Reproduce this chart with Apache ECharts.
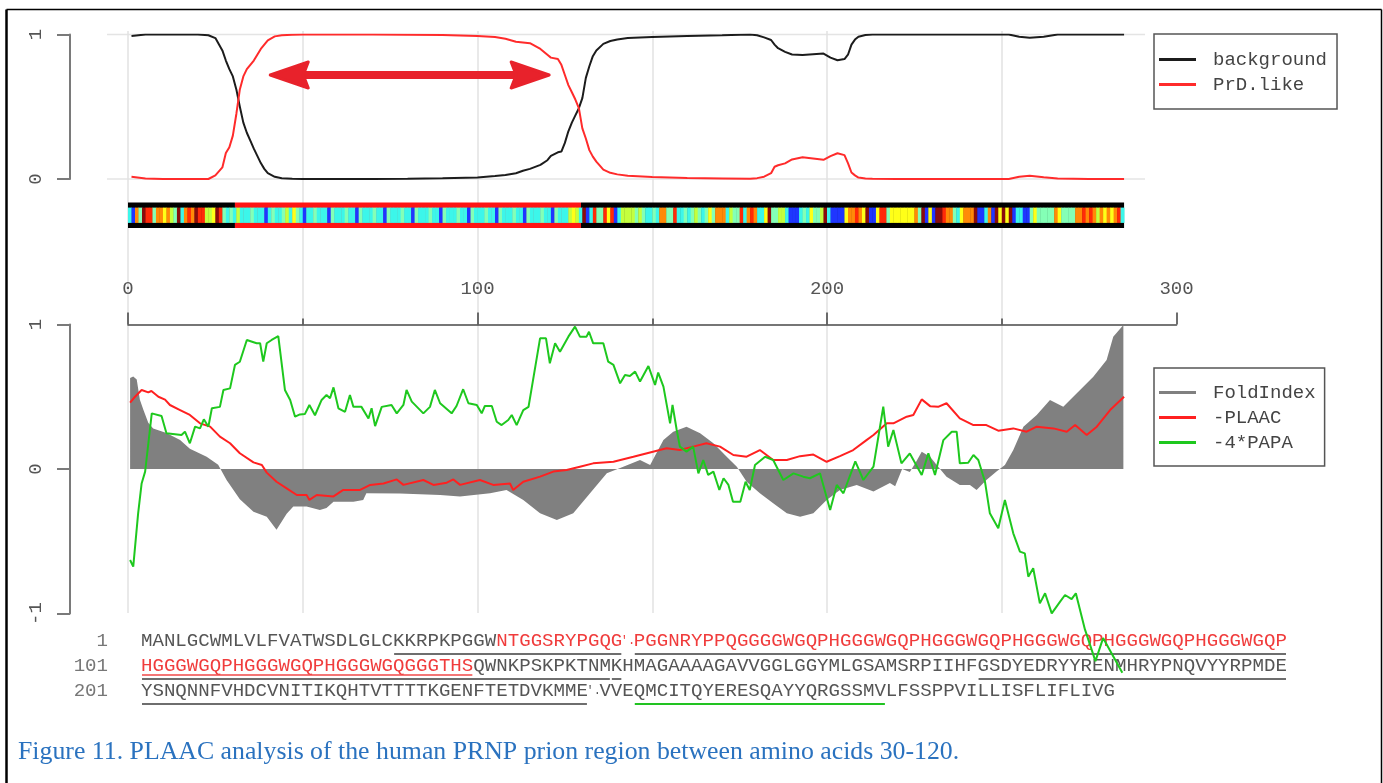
<!DOCTYPE html>
<html>
<head>
<meta charset="utf-8">
<title>PLAAC analysis of human PRNP</title>
<script src="https://cdn.jsdelivr.net/npm/echarts@6.0.0/dist/echarts.min.js"></script>
<style>
  html, body { margin: 0; padding: 0; background: #fff; }
  #chart { width: 1383px; height: 783px; }
</style>
</head>
<body>
<div id="chart"></div>
<script>
// ---------------- data ----------------
// top panel: HMM state probabilities (residue position -> value)
const topPos = [1, 5, 10, 15, 20, 23, 25, 27, 28, 29, 30, 31, 32, 33, 34, 35, 36, 37, 38, 39,
  40, 42, 44, 47, 50, 60, 70, 80, 90, 100, 105, 108, 111, 113, 115, 118, 120, 121, 123, 124,
  125, 126, 127, 128, 129, 130, 131, 132, 133, 134, 136, 138, 140, 143, 150, 160, 170, 178, 180, 182,
  184, 185, 186, 188, 190, 193, 196, 199, 201, 203, 205, 206, 207, 208, 209, 211, 213, 220, 240, 252,
  255, 258, 262, 266, 275, 285];
const bgVals = [0.99, 1, 1, 1, 1, 0.995, 0.975, 0.89, 0.82, 0.76, 0.71, 0.62, 0.5, 0.39, 0.32, 0.265, 0.21, 0.16, 0.11, 0.07,
  0.04, 0.015, 0.005, 0.002, 0, 0, 0, 0.002, 0.005, 0.01, 0.02, 0.028, 0.04, 0.057, 0.07, 0.098, 0.13, 0.16, 0.185, 0.19,
  0.25, 0.33, 0.39, 0.44, 0.49, 0.56, 0.7, 0.78, 0.85, 0.89, 0.935, 0.955, 0.965, 0.975, 0.983, 0.99, 0.995, 1, 0.995, 0.98,
  0.962, 0.93, 0.905, 0.88, 0.862, 0.858, 0.863, 0.868, 0.84, 0.822, 0.83, 0.86, 0.93, 0.965, 0.985, 0.997, 1, 1, 1, 1,
  0.985, 0.978, 0.985, 1, 1, 1];
const prdVals = [0.015, 0.004, 0, 0, 0, 0, 0.025, 0.08, 0.18, 0.22, 0.3, 0.45, 0.62, 0.71, 0.76, 0.79, 0.82, 0.86, 0.9, 0.93,
  0.96, 0.987, 0.995, 0.999, 1, 1, 1, 0.999, 0.997, 0.99, 0.982, 0.97, 0.95, 0.945, 0.94, 0.9, 0.86, 0.84, 0.83, 0.79,
  0.72, 0.65, 0.6, 0.55, 0.49, 0.35, 0.28, 0.2, 0.155, 0.12, 0.065, 0.043, 0.032, 0.022, 0.013, 0.007, 0.004, 0.002, 0.006, 0.016,
  0.04, 0.085, 0.095, 0.108, 0.135, 0.15, 0.142, 0.133, 0.158, 0.178, 0.165, 0.11, 0.045, 0.025, 0.01, 0.004, 0.002, 0, 0, 0,
  0.016, 0.023, 0.012, 0.004, 0, 0];

// MAP / Vit strip: one colour code per residue (0..284)
const mapCodes = [
  'cboadrraooyogadcorodrrggydracac',
  'gcccacccbcaccagcyacbccaccc',
  'bacccaccbacccaccbacccaccbacccaccbacccaccbacccaccbacccaccbacccacc',
  'bacccgygc',
  'dbcraaryrbcggggagaccacooaarccacagacayaoo',
  'ocgaarcoroccydaaggcbbbcacyaagdcbbbbyooro',
  'ydbbyrrayyyyyyyoadbybddrooacyooodbbcobdy',
  'dydbccbbayaaaaaoyaaaaoororogoyoyorc'
].join('');
const codeKeys = 'bcagyord';
const codeColors = ['#1f36ff', '#3cf6ea', '#84ffb6', '#c4ff3e', '#ffff18', '#ff8a08', '#ff2a08', '#8a0c0c'];
// parse along the sequence: [from, to, state] (0 = background, 1 = PrD-like)
const parseSegs = [[0, 30.6, 0], [30.6, 129.6, 1], [129.6, 285, 0]];
const parseColors = ['#000000', '#ff1414'];

// bottom panel
const foldPos = [0.6, 1.5, 2.5, 3.4, 4.4, 5.8, 7.2, 11, 14.9, 17.7, 22.5, 25.8, 28.2, 32, 35.9, 39.7, 42.5, 45.4, 47.3, 51.1,
  54.9, 56.8, 58.8, 64.5, 67.3, 68.2, 77.8, 89.3, 95, 103.6, 108.3, 113.1, 117.9, 122.7, 127.4, 132.2, 137, 141.7, 146.5, 149.4,
  153.2, 156, 159.8, 163.7, 167.5, 171.3, 174.2, 177, 180.8, 184.6, 188.5, 192.3, 196.1, 199.9, 203.7, 208.5, 213.3, 218, 219.5, 221.5,
  223.7, 225.5, 227.1, 229.5, 231.8, 234.2, 238, 240.9, 242.8, 245.6, 248.5, 250.9, 253.3, 256.2, 260, 263.8, 267.6, 272.4, 276.2, 280,
  281.9, 284.8];
const foldVals = [0.63, 0.64, 0.62, 0.48, 0.41, 0.32, 0.28, 0.25, 0.2, 0.14, 0.085, 0.03, -0.076, -0.21, -0.295, -0.33, -0.42, -0.31, -0.26, -0.26,
  -0.284, -0.27, -0.226, -0.226, -0.214, -0.168, -0.17, -0.18, -0.19, -0.168, -0.145, -0.214, -0.307, -0.353, -0.307, -0.168, -0.03, 0.016, 0.062, 0.028,
  0.2, 0.258, 0.293, 0.247, 0.178, 0.085, 0.016, -0.088, -0.168, -0.237, -0.307, -0.33, -0.307, -0.214, -0.145, -0.11, -0.155, -0.097, -0.12, 0,
  -0.02, 0.05, 0.12, 0.085, 0.016, -0.053, -0.11, -0.11, -0.145, -0.076, -0.018, 0.028, 0.131, 0.293, 0.374, 0.478, 0.43, 0.547, 0.639, 0.754,
  0.916, 0.997];

const plaacPos = [0.6, 2, 3.9, 5.8, 6.7, 8.7, 10.6, 12, 14.9, 17.7, 20.6, 23.5, 26.3, 29.2, 32, 35.9, 38.3, 39.7, 42.5, 45.4,
  48.3, 51.1, 51.9, 54, 58.8, 61.6, 66.4, 69.3, 73.1, 76.9, 78.8, 84.5, 87.4, 91.2, 93.1, 95, 100.7, 104.5, 109.3, 110.2,
  113.1, 117.9, 121.7, 125.5, 129.3, 133.1, 138.9, 144.6, 150.2, 154.1, 157.9, 161.7, 165.5, 169.4, 173.2, 177, 180.8, 184.6, 188.5, 192.3,
  196.1, 199.9, 203.7, 207.5, 211.3, 213.3, 217.1, 219, 222.8, 224.7, 227.1, 229.5, 231.8, 234.2, 238, 241.9, 245.6, 249, 253.3, 257.1,
  260, 264.8, 268.6, 271, 274.3, 277.2, 281, 285];
const plaacVals = [0.46, 0.5, 0.547, 0.53, 0.54, 0.5, 0.48, 0.443, 0.408, 0.374, 0.316, 0.293, 0.224, 0.178, 0.109, 0.046, 0.028, -0.025, -0.088, -0.134,
  -0.18, -0.18, -0.214, -0.18, -0.19, -0.145, -0.145, -0.11, -0.1, -0.072, -0.11, -0.076, -0.11, -0.095, -0.072, -0.11, -0.076, -0.11, -0.1, -0.145,
  -0.088, -0.053, -0.018, -0.007, 0.016, 0.039, 0.05, 0.085, 0.12, 0.143, 0.131, 0.155, 0.178, 0.155, 0.097, 0.085, 0.131, 0.062, 0.062, 0.089,
  0.1, 0.05, 0.089, 0.131, 0.2, 0.235, 0.316, 0.316, 0.362, 0.374, 0.482, 0.435, 0.43, 0.455, 0.35, 0.304, 0.304, 0.265, 0.281, 0.258,
  0.293, 0.281, 0.258, 0.304, 0.235, 0.293, 0.408, 0.5];

const papaPos = [0.6, 1.5, 2.9, 3.9, 4.9, 6.8, 9.6, 11, 15.3, 16.3, 17.7, 19.2, 20.6, 21.7, 23, 24, 26.3, 27.3, 29.2, 30.6,
  32, 34, 36.8, 37.8, 38.7, 39.7, 41.1, 43, 44.9, 46.4, 47.8, 49.2, 50.6, 51.9, 53.5, 55.4, 56.8, 57.8, 58.8, 60.2,
  62.1, 63.5, 64.5, 66.8, 68.8, 69.7, 70.7, 72.6, 75.4, 76.9, 78.8, 79.7, 81.2, 84.5, 86.4, 87.8, 89.3, 92.6, 94, 95.9,
  97.4, 99.8, 101.2, 102.1, 104.1, 105.5, 106.9, 108.8, 109.8, 111.2, 113.1, 114.6, 117.9, 119.6, 120.7, 122.2, 123.6, 126, 127.9, 129.3,
  131.2, 131.9, 133.1, 136, 137.4, 138.9, 140.8, 142.2, 143.6, 145.1, 146.5, 148.9, 150.8, 151.7, 153.2, 155.1, 155.8, 157, 157.9, 159.8,
  161.7, 163.2, 164.6, 166, 167.5, 169.2, 170.4, 171.8, 173.1, 175.2, 176.7, 177.9, 179.4, 182.3, 184.6, 187.5, 190.4, 193.2, 195.1, 198,
  200.9, 202.8, 204.7, 208.1, 210.4, 213.3, 216.1, 217.5, 219, 221.3, 223.7, 227.1, 229, 230.9, 233.3, 235.7, 237.1, 238, 240.4, 241.9,
  243.3, 245.2, 246.6, 249, 250.9, 253.3, 255.2, 256.6, 257.6, 259, 260.9, 262.4, 264.3, 266.7, 268.1, 270, 271.2, 273.8, 276.8, 279,
  284.5];
const papaVals = [-0.63, -0.676, -0.307, -0.1, -0.018, 0.385, 0.367, 0.247, 0.235, 0.258, 0.178, 0.293, 0.281, 0.344, 0.293, 0.42, 0.43, 0.547, 0.558, 0.72,
  0.742, 0.893, 0.87, 0.87, 0.743, 0.87, 0.893, 0.92, 0.547, 0.478, 0.362, 0.378, 0.38, 0.443, 0.372, 0.478, 0.512, 0.49, 0.565, 0.42,
  0.396, 0.512, 0.43, 0.43, 0.35, 0.42, 0.297, 0.43, 0.443, 0.385, 0.443, 0.547, 0.466, 0.385, 0.43, 0.547, 0.455, 0.385, 0.436, 0.552,
  0.455, 0.443, 0.385, 0.436, 0.436, 0.327, 0.304, 0.339, 0.374, 0.304, 0.408, 0.43, 0.904, 0.904, 0.731, 0.87, 0.812, 0.916, 0.985, 0.916,
  0.916, 0.95, 0.87, 0.87, 0.743, 0.72, 0.593, 0.651, 0.644, 0.674, 0.605, 0.713, 0.582, 0.667, 0.57, 0.316, 0.443, 0.27, 0.155, 0.12,
  0.155, -0.03, 0.062, -0.041, -0.018, -0.145, -0.064, -0.11, -0.226, -0.226, -0.088, -0.145, 0.028, 0.085, 0.062, -0.076, -0.03, -0.053, -0.064, -0.03,
  -0.284, -0.11, -0.168, 0.053, -0.076, 0.016, 0.431, 0.155, 0.27, 0.039, 0.108, -0.041, 0.108, -0.041, 0.2, 0.258, 0.258, 0.039, 0.043, 0.097,
  0.062, -0.088, -0.307, -0.41, -0.214, -0.445, -0.572, -0.584, -0.745, -0.687, -0.93, -0.86, -0.999, -0.918, -0.872, -0.9, -0.86, -1.11, -1.33, -1.17,
  -1.41];
const papaThreshold = -0.2;

// light reference lines of the top panel: [fromX, toX, level]
const topRefLines = [[-6, 291, 1], [-6, 291, 0]];

// hand-drawn arrow over the PrD-like stretch (residues, level)
const arrowSpan = [40.7, 120.5];
const arrowLevel = 0.72;

// sequence listing under the plot; '§' marks the blotted cell
const seqRows = [
  { label: '1', text: 'MANLGCWMLVLFVATWSDLGLCKKRPKPGGWNTGGSRYPGQG§PGGNRYPPQGGGGWGQPHGGGWGQPHGGGWGQPHGGGWGQPHGGGWGQPHGGGWGQP' },
  { label: '101', text: 'HGGGWGQPHGGGWGQPHGGGWGQGGGTHSQWNKPSKPKTNMKHMAGAAAAGAVVGGLGGYMLGSAMSRPIIHFGSDYEDRYYRENMHRYPNQVYYRPMDE' },
  { label: '201', text: 'YSNQNNFVHDCVNITIKQHTVTTTTKGENFTETDVKMME§VVEQMCITQYERESQAYYQRGSSMVLFSSPPVILLISFLIFLIVG' }
];
// [row, from, to) in residue cells
const redRuns = [[0, 31, 100], [1, 0, 29]];
const grayUnder = [[0, 22, 42], [0, 43, 100], [1, 0, 41], [1, 41, 42], [1, 73, 100], [2, 0, 39]];
const redUnder = [[1, 0, 29]];
const greenUnder = [[2, 43, 65]];

const caption = 'Figure 11. PLAAC analysis of the human PRNP prion region between amino acids 30-120.';

// ---------------- chart ----------------
const MONO = '"Liberation Mono", "DejaVu Sans Mono", monospace';
const plotLeft = 128;
const plotWidth = 1048.5;

const chart = echarts.init(document.getElementById('chart'));

const bracketAxis = {
  offset: 58,
  axisLine: { show: true, onZero: false, lineStyle: { color: '#7a7a7a', width: 2 } },
  axisTick: { show: true, length: 13, lineStyle: { color: '#7a7a7a', width: 2 } },
  axisLabel: { rotate: 90, margin: 25, color: '#555', fontSize: 19, fontFamily: MONO },
  splitLine: { show: false }
};

const option = {
  animation: false,
  backgroundColor: '#ffffff',
  grid: [
    { left: plotLeft, width: plotWidth, top: 34.5, height: 144.5 },
    { left: plotLeft, width: plotWidth, top: 202.5, height: 25.5 },
    { left: plotLeft, width: plotWidth, top: 324.5, height: 289 },
    { left: plotLeft, width: plotWidth, top: 31, height: 582 }
  ],
  xAxis: [
    { gridIndex: 0, type: 'value', min: 0, max: 300, show: false },
    { gridIndex: 1, type: 'value', min: 0, max: 300, show: false },
    {
      gridIndex: 2, type: 'value', min: 0, max: 300, interval: 100, position: 'top',
      axisLine: { show: true, onZero: false, lineStyle: { color: '#4a4a4a', width: 1.6 } },
      axisTick: { show: true, length: 12, lineStyle: { color: '#4a4a4a', width: 1.6 } },
      minorTick: { show: true, splitNumber: 2, length: 6, lineStyle: { color: '#4a4a4a', width: 1.6 } },
      axisLabel: { margin: 26, color: '#555', fontSize: 19, fontFamily: MONO },
      splitLine: { show: false }
    },
    {
      // vertical grid running through all three panels
      gridIndex: 3, type: 'value', min: 0, max: 300, interval: 50,
      axisLine: { show: false }, axisTick: { show: false }, axisLabel: { show: false },
      splitLine: {
        show: true, showMaxLine: false,
        lineStyle: { width: 1.5, color: ['#e2e2e2', '#e2e2e2', '#e2e2e2', '#e2e2e2', '#e2e2e2', '#e2e2e2', 'rgba(0,0,0,0)'] }
      }
    }
  ],
  yAxis: [
    Object.assign({ gridIndex: 0, type: 'value', min: 0, max: 1, interval: 1 }, bracketAxis),
    { gridIndex: 1, type: 'value', min: 0, max: 1, show: false },
    Object.assign({ gridIndex: 2, type: 'value', min: -1, max: 1, interval: 1 }, bracketAxis),
    { gridIndex: 3, type: 'value', min: 0, max: 1, show: false }
  ],
  legend: [
    {
      data: ['background', 'PrD.like'],
      orient: 'vertical', left: 1154, top: 34,
      icon: 'rect', itemWidth: 37, itemHeight: 3, itemGap: 6,
      padding: [16, 10, 15, 5],
      borderColor: '#555', borderWidth: 1.5,
      selectedMode: false,
      textStyle: { fontFamily: MONO, fontSize: 19, color: '#444', padding: [0, 0, 0, 12] }
    },
    {
      data: ['FoldIndex', '-PLAAC', '-4*PAPA'],
      orient: 'vertical', left: 1154, top: 368,
      icon: 'rect', itemWidth: 37, itemHeight: 3, itemGap: 6,
      padding: [15, 9, 14, 5],
      borderColor: '#555', borderWidth: 1.5,
      selectedMode: false,
      textStyle: { fontFamily: MONO, fontSize: 19, color: '#444', padding: [0, 0, 0, 12] }
    }
  ],
  series: [
    {
      name: 'background', type: 'line', xAxisIndex: 0, yAxisIndex: 0, z: 3,
      data: topPos.map((x, i) => [x, bgVals[i]]),
      symbol: 'none', silent: true,
      lineStyle: { color: '#1c1c1c', width: 2 }, itemStyle: { color: '#1c1c1c' }
    },
    {
      name: 'PrD.like', type: 'line', xAxisIndex: 0, yAxisIndex: 0, z: 3,
      data: topPos.map((x, i) => [x, prdVals[i]]),
      symbol: 'none', silent: true,
      lineStyle: { color: '#ff2b2b', width: 2 }, itemStyle: { color: '#ff2b2b' }
    },
    {
      // parse band (black / red) behind the colour strip
      type: 'custom', xAxisIndex: 1, yAxisIndex: 1, silent: true,
      data: parseSegs,
      encode: { x: [0, 1] },
      renderItem: function (params, api) {
        const p0 = api.coord([api.value(0), 1]);
        const p1 = api.coord([api.value(1), 0]);
        return {
          type: 'rect',
          shape: { x: p0[0], y: p0[1], width: p1[0] - p0[0], height: p1[1] - p0[1] },
          style: { fill: parseColors[api.value(2)] }
        };
      }
    },
    {
      type: 'custom', xAxisIndex: 1, yAxisIndex: 1, silent: true,
      data: mapCodes.split('').map((c, i) => [i, i + 1, codeKeys.indexOf(c)]),
      encode: { x: [0, 1] },
      renderItem: function (params, api) {
        const p0 = api.coord([api.value(0), 0.8]);
        const p1 = api.coord([api.value(1), 0.2]);
        return {
          type: 'rect',
          shape: { x: p0[0], y: p0[1], width: p1[0] - p0[0] + 0.4, height: p1[1] - p0[1] },
          style: { fill: codeColors[api.value(2)] }
        };
      }
    },
    {
      name: 'FoldIndex', type: 'line', xAxisIndex: 2, yAxisIndex: 2, z: 1,
      data: foldPos.map((x, i) => [x, foldVals[i]]),
      symbol: 'none', silent: true,
      lineStyle: { color: '#808080', width: 0 }, itemStyle: { color: '#808080' },
      areaStyle: { color: '#808080', opacity: 1 }
    },
    {
      name: '-PLAAC', type: 'line', xAxisIndex: 2, yAxisIndex: 2, z: 3,
      data: plaacPos.map((x, i) => [x, plaacVals[i]]),
      symbol: 'none', silent: true,
      lineStyle: { color: '#ff2020', width: 2 }, itemStyle: { color: '#ff2020' }
    },
    {
      name: '-4*PAPA', type: 'line', xAxisIndex: 2, yAxisIndex: 2, z: 4,
      data: papaPos.map((x, i) => [x, papaVals[i]]),
      symbol: 'none', silent: true, clip: false,
      lineStyle: { color: '#1ec81e', width: 2 }, itemStyle: { color: '#1ec81e' },
      markLine: {
        silent: true, symbol: 'none', z: 2, label: { show: false },
        data: [
          [{ coord: [-20.3, 0], lineStyle: { color: '#333', width: 1.6, type: 'solid' } },
           { coord: [300, 0] }],
          [{ coord: [-15.5, papaThreshold], lineStyle: { color: '#3ad83a', width: 2, type: [8, 6] } },
           { coord: [300, papaThreshold] }]
        ]
      }
    }
  ]
};
chart.setOption(option);

// ---------------- annotations, sequence listing, caption ----------------
const graphics = [];

// figure frame
graphics.push({ type: 'line', shape: { x1: 6.5, y1: 9.5, x2: 6.5, y2: 790 }, style: { stroke: '#000', lineWidth: 2.5 } });
graphics.push({ type: 'line', shape: { x1: 6.5, y1: 9.5, x2: 1381.5, y2: 9.5 }, style: { stroke: '#000', lineWidth: 1.3 } });
graphics.push({ type: 'line', shape: { x1: 1381.5, y1: 9.5, x2: 1381.5, y2: 790 }, style: { stroke: '#000', lineWidth: 1.5 } });

// faint reference lines at 0 and 1 in the top panel (placed through the axis scale)
topRefLines.forEach(([x0, x1, lvl]) => {
  const p0 = chart.convertToPixel({ gridIndex: 0 }, [x0, lvl]);
  const p1 = chart.convertToPixel({ gridIndex: 0 }, [x1, lvl]);
  graphics.push({
    type: 'line', z: -1,
    shape: { x1: p0[0], y1: p0[1], x2: p1[0], y2: p1[1] },
    style: { stroke: '#e4e4e4', lineWidth: 1.5 }
  });
});

// double-headed red arrow
const aL = chart.convertToPixel({ gridIndex: 0 }, [arrowSpan[0], arrowLevel]);
const aR = chart.convertToPixel({ gridIndex: 0 }, [arrowSpan[1], arrowLevel]);
const arrowRed = '#e8222b';
graphics.push({
  type: 'line', shape: { x1: aL[0] + 25, y1: aL[1], x2: aR[0] - 25, y2: aR[1] },
  style: { stroke: arrowRed, lineWidth: 8, lineCap: 'round' }
});
graphics.push({
  type: 'polygon', shape: { points: [[aL[0], aL[1]], [aL[0] + 38, aL[1] - 13], [aL[0] + 33, aL[1]], [aL[0] + 38, aL[1] + 13]] },
  style: { fill: arrowRed, stroke: arrowRed, lineWidth: 3, lineJoin: 'round' }
});
graphics.push({
  type: 'polygon', shape: { points: [[aR[0], aR[1]], [aR[0] - 38, aR[1] - 13], [aR[0] - 33, aR[1]], [aR[0] - 38, aR[1] + 13]] },
  style: { fill: arrowRed, stroke: arrowRed, lineWidth: 3, lineJoin: 'round' }
});

// sequence listing
const seqX = 141;
const seqPitch = 11.46;
const seqFont = 19.1;
const rowY = [641, 666, 691];
const seqGray = '#555';
const seqRed = '#f03c3c';

function isRed(r, j) {
  return redRuns.some(([rr, a, b]) => rr === r && j >= a && j < b);
}

seqRows.forEach((row, r) => {
  graphics.push({
    type: 'text',
    style: { text: row.label, x: 108, y: rowY[r], align: 'right', verticalAlign: 'middle',
      fontFamily: MONO, fontSize: seqFont, fill: '#777' }
  });
  let start = 0;
  for (let i = 1; i <= row.text.length; i++) {
    const cut = i === row.text.length || isRed(r, i) !== isRed(r, start) ||
      row.text[i] === '§' || row.text[i - 1] === '§';
    if (!cut) continue;
    const piece = row.text.slice(start, i);
    const fill = isRed(r, start) ? seqRed : seqGray;
    if (piece === '§') {
      graphics.push({
        type: 'text',
        style: { text: "'.", x: seqX + (start + 0.5) * seqPitch, y: rowY[r], align: 'center', verticalAlign: 'middle',
          fontFamily: MONO, fontSize: 12, fill: fill }
      });
    } else {
      graphics.push({
        type: 'text',
        style: { text: piece, x: seqX + start * seqPitch, y: rowY[r], align: 'left', verticalAlign: 'middle',
          fontFamily: MONO, fontSize: seqFont, fill: fill }
      });
    }
    start = i;
  }
});

[[grayUnder, '#6e6e6e', 2, 13], [redUnder, '#f04848', 1.5, 9], [greenUnder, '#22c322', 2, 13]].forEach(([runs, color, w, dy]) => {
  runs.forEach(([r, a, b]) => {
    graphics.push({
      type: 'line',
      shape: { x1: seqX + a * seqPitch + 1, y1: rowY[r] + dy, x2: seqX + b * seqPitch - 1, y2: rowY[r] + dy },
      style: { stroke: color, lineWidth: w }
    });
  });
});

// caption
graphics.push({
  type: 'text',
  style: { text: caption, x: 18, y: 752, align: 'left', verticalAlign: 'middle',
    fontFamily: '"Liberation Serif", "DejaVu Serif", serif', fontSize: 25.8, fill: '#2a72bf' }
});

chart.setOption({ graphic: graphics });
</script>
</body>
</html>
